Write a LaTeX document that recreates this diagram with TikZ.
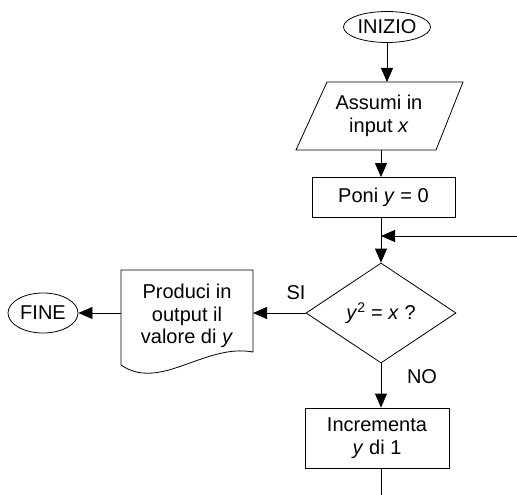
\documentclass[tikz,border=0pt]{standalone}
\usepackage{fontspec}
\setmainfont{Liberation Sans}
\usetikzlibrary{shapes.geometric,arrows.meta}
\begin{document}
\begin{tikzpicture}[x=1pt,y=-1pt,
  line width=0.8pt,
  every node/.style={font=\fontsize{20}{22.5}\selectfont, align=center},
  flow/.style={-{Triangle[length=14pt,width=12pt]}},
  term/.style={draw, ellipse, inner sep=0pt},
  procbox/.style={draw, rectangle, inner sep=0pt},
  tag/.style={inner sep=0pt}]
\useasboundingbox (0,0) rectangle (517,495);

% start terminal
\node[term, minimum width=87pt, minimum height=31pt] (start) at (387,27) {INIZIO};

% input parallelogram
\draw (327,82) -- (463,82) -- (436,150) -- (296,150) -- cycle;
\coordinate (inTop) at (387,82);
\coordinate (inBot) at (381,150);
\node (inText) at (379,116) {Assumi in\\input \textit{x}};
\draw[flow] (start.south) -- (inTop);

% initialisation
\node[procbox, minimum width=143pt, minimum height=40pt] (init) at (383.5,197.5) {Poni \textit{y} = 0};
\draw[flow] (inBot) -- (inBot |- init.north);

% decision
\node[draw, diamond, minimum width=150pt, minimum height=100pt, inner sep=0pt] (dec) at (381,313)
  {\textit{y}\textsuperscript{2} = \textit{x} ?};
\draw[flow] (dec.north |- init.south) -- (dec.north);

% loop return
\coordinate (loopIn) at (517,236);
\coordinate (join) at (dec.north |- loopIn);
\draw[flow] (loopIn) -- (join);

% increment
\node[procbox, minimum width=144pt, minimum height=60pt] (incr) at (377,438) {Incrementa\\\textit{y} di 1};
\draw[flow] (dec.south) -- (dec.south |- incr.north);
\coordinate (loopOut) at (dec.south |- 0,495);
\draw (loopOut |- incr.south) -- (loopOut);

% output document
\draw (121,270) -- (253,270) -- (253,352) .. controls (205,343) and (160,392) .. (121,365) -- cycle;
\node (outText) at (187,316) {Produci in\\output il\\valore di \textit{y}};
\coordinate (outR) at (253,313);
\coordinate (outL) at (121,313);
\draw[flow] (dec.west) -- (outR);

% end terminal
\node[term, minimum width=70pt, minimum height=40pt] (stop) at (43,313) {FINE};
\draw[flow] (outL) -- (stop.east);

% branch labels
\node[tag] (yes) at (296,293) {SI};
\node[tag] (no) at (422,377) {NO};
\end{tikzpicture}
\end{document}
